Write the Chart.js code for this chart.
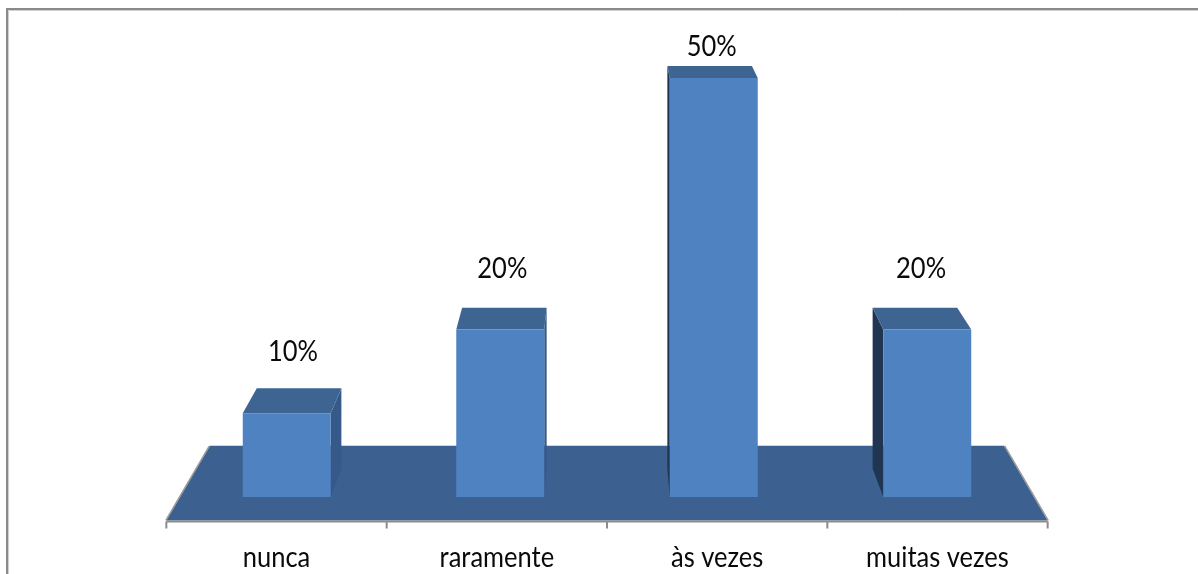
<!DOCTYPE html>
<html>
<head>
<meta charset="utf-8">
<title>Frequência</title>
<script src="https://cdn.jsdelivr.net/npm/chart.js@4.4.1/dist/chart.umd.min.js"></script>
<style>
  html, body { margin: 0; padding: 0; background: #fff; }
  canvas { display: block; }
</style>
</head>
<body>
<canvas id="freqChart" width="1198" height="574"></canvas>
<script>
const categories = ['nunca', 'raramente', 'às vezes', 'muitas vezes'];
const values = [10, 20, 50, 20];
const valueLabels = ['10%', '20%', '50%', '20%'];

// fake 3D: one-point perspective, vanishing point above the plot
const depth = {
    floorFront: 1.032,
    barBack: 0.9615,
    floorBack: 0.93
};
const colors = {
    front: '#4f82c1',
    top: '#3e6592',
    sideRight: '#36598a',
    sideLeft: '#1f3552',
    floor: '#3c6190',
    edge: '#9a9a9a'
};
const labelFont = '25.5px Lato';

function project(vp, x, y, s) {
    return [vp.x + (x - vp.x) * s, vp.y + (y - vp.y) * s];
}

function poly(ctx, pts, fill) {
    ctx.beginPath();
    ctx.moveTo(pts[0][0], pts[0][1]);
    for (let i = 1; i < pts.length; i++) ctx.lineTo(pts[i][0], pts[i][1]);
    ctx.closePath();
    ctx.fillStyle = fill;
    ctx.fill();
}

// text is drawn a bit taller than wide, like the old office charts
function stretchedText(ctx, text, x, y) {
    ctx.save();
    ctx.translate(x, y);
    ctx.scale(1, 1.12);
    ctx.font = labelFont;
    ctx.fillStyle = '#0a0a0a';
    ctx.textAlign = 'center';
    ctx.textBaseline = 'middle';
    ctx.fillText(text, 0, 0);
    ctx.restore();
}

function vanishing(chart) {
    const area = chart.chartArea;
    return { x: (area.left + area.right) / 2, y: area.bottom - 732 };
}

const bars3d = {
    id: 'bars3d',
    beforeDatasetsDraw(chart) {
        const ctx = chart.ctx;
        const area = chart.chartArea;
        const vp = vanishing(chart);
        const y0 = chart.scales.y.getPixelForValue(0);

        // floor
        const fl = project(vp, area.left, y0, depth.floorFront);
        const fr = project(vp, area.right, y0, depth.floorFront);
        const br = project(vp, area.right, y0, depth.floorBack);
        const bl = project(vp, area.left, y0, depth.floorBack);
        poly(ctx, [fl, fr, br, bl], colors.floor);

        ctx.save();
        ctx.strokeStyle = colors.edge;
        ctx.lineWidth = 1.5;
        ctx.beginPath();
        ctx.moveTo(fl[0] - 0.5, fl[1]);
        ctx.lineTo(bl[0] - 0.5, bl[1]);
        ctx.moveTo(fr[0] + 0.5, fr[1]);
        ctx.lineTo(br[0] + 0.5, br[1]);
        ctx.stroke();
        ctx.restore();

        // side and top faces, the front face is the chart.js bar
        chart.getDatasetMeta(0).data.forEach((bar) => {
            const l = bar.x - bar.width / 2;
            const r = bar.x + bar.width / 2;
            const t = bar.y;
            const b = bar.base;
            const s = depth.barBack;

            if (bar.x < vp.x) {
                poly(ctx, [[r, t], [r, b], project(vp, r, b, s), project(vp, r, t, s)], colors.sideRight);
            } else {
                poly(ctx, [[l, t], [l, b], project(vp, l, b, s), project(vp, l, t, s)], colors.sideLeft);
            }
            poly(ctx, [[l, t], [r, t], project(vp, r, t, s), project(vp, l, t, s)], colors.top);
        });
    },
    afterDatasetsDraw(chart) {
        const ctx = chart.ctx;
        const area = chart.chartArea;
        const vp = vanishing(chart);
        const y0 = chart.scales.y.getPixelForValue(0);
        const front = project(vp, area.left, y0, depth.floorFront);
        const frontR = project(vp, area.right, y0, depth.floorFront);
        const axisY = front[1] + 1;

        // category axis along the front edge of the floor
        ctx.save();
        ctx.strokeStyle = '#8c8c8c';
        ctx.lineWidth = 2;
        ctx.beginPath();
        ctx.moveTo(front[0], axisY);
        ctx.lineTo(frontR[0], axisY);
        for (let i = 0; i <= categories.length; i++) {
            const x = area.left + i * (area.right - area.left) / categories.length;
            const p = project(vp, x, y0, depth.floorFront);
            ctx.moveTo(p[0], axisY);
            ctx.lineTo(p[0], axisY + 7);
        }
        ctx.stroke();
        ctx.restore();

        categories.forEach((cat, i) => {
            const x = chart.scales.x.getPixelForValue(i);
            const p = project(vp, x, y0, depth.floorFront);
            stretchedText(ctx, cat, p[0], axisY + 36);
        });

        // value labels over the top face
        chart.getDatasetMeta(0).data.forEach((bar, i) => {
            const l = bar.x - bar.width / 2;
            const r = bar.x + bar.width / 2;
            const bl = project(vp, l, bar.y, depth.barBack);
            const br = project(vp, r, bar.y, depth.barBack);
            const cx = (l + r + bl[0] + br[0]) / 4;
            const y = Math.max(bar.y - 61, area.top - 31);
            stretchedText(ctx, valueLabels[i], cx, y);
        });
    },
    afterDraw(chart) {
        // outer frame of the chart box
        const ctx = chart.ctx;
        ctx.save();
        ctx.strokeStyle = '#8a8a8a';
        ctx.lineWidth = 2;
        ctx.beginPath();
        ctx.moveTo(7, chart.height);
        ctx.lineTo(7, 9);
        ctx.lineTo(chart.width, 9);
        ctx.stroke();
        ctx.strokeStyle = '#d0d0d0';
        ctx.lineWidth = 1;
        ctx.beginPath();
        ctx.moveTo(8.5, chart.height);
        ctx.lineTo(8.5, 10.5);
        ctx.lineTo(chart.width, 10.5);
        ctx.stroke();
        ctx.restore();
    }
};

let freqChart = new Chart(document.getElementById('freqChart'), {
    type: 'bar',
    data: {
        labels: categories,
        datasets: [{
            data: values,
            backgroundColor: colors.front,
            borderWidth: 0,
            categoryPercentage: 1,
            barPercentage: 0.412
        }]
    },
    options: {
        responsive: false,
        animation: false,
        layout: {
            padding: { left: 180, right: 164, top: 78, bottom: 77 }
        },
        plugins: {
            legend: { display: false },
            tooltip: { enabled: false }
        },
        scales: {
            x: { display: false },
            y: { display: false, min: 0, max: 50 }
        }
    },
    plugins: [bars3d]
});
</script>
</body>
</html>
